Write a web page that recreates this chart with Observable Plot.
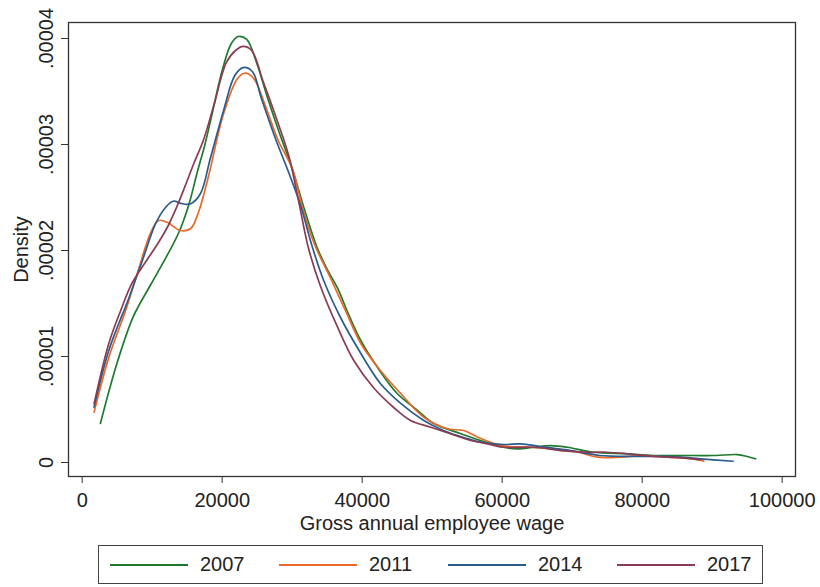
<!DOCTYPE html>
<html>
<head>
<meta charset="utf-8">
<script src="https://cdn.jsdelivr.net/npm/d3@7"></script>
<script src="https://cdn.jsdelivr.net/npm/@observablehq/plot@0.6"></script>
<style>
  body { margin: 0; background: #fff; font-family: "Liberation Sans", Arial, sans-serif; }
  #wrap { position: relative; width: 820px; height: 587px; }
  #legend { position: absolute; left: 98px; top: 545px; width: 665px; height: 39px; box-sizing: border-box; border: 1px solid #444; background: #fff; }
  .item { position: absolute; top: 0; height: 37px; }
  .swatch { position: absolute; top: 18px; width: 78px; height: 2px; }
  .lab { position: absolute; left: 90px; top: 7px; font-size: 20px; color: #222; line-height: 22px; }
</style>
</head>
<body>
<div id="wrap"><div id="chart"></div><div id="legend"></div></div>
<script>
const years = ["2007", "2011", "2014", "2017"];
const seriesColors = ["#1f7a2e", "#e8692a", "#2a5d8c", "#8b3b52"];

const wage2007 = [2600,5000,7300,9800,11900,13800,15200,16500,17500,18600,20000,21300,22300,23500,24900,26600,28300,30000,31800,33500,35000,36500,38000,39800,42200,45000,47900,50200,54000,56900,60200,62200,64500,66900,69300,73000,77900,81600,87300,90200,93600,95000,96200];
const dens2007 = [3.68e-6,9.43e-6,13.77e-6,16.79e-6,19.25e-6,21.70e-6,24.25e-6,27.55e-6,29.91e-6,33.02e-6,36.98e-6,39.53e-6,40.19e-6,39.91e-6,37.74e-6,34.15e-6,30.85e-6,27.74e-6,23.77e-6,20.38e-6,18.21e-6,16.42e-6,14.06e-6,11.51e-6,8.96e-6,6.51e-6,4.91e-6,3.68e-6,2.74e-6,2.08e-6,1.44e-6,1.29e-6,1.44e-6,1.60e-6,1.44e-6,0.97e-6,0.82e-6,0.66e-6,0.66e-6,0.66e-6,0.75e-6,0.57e-6,0.35e-6];

const wage2011 = [1700,3800,6200,8000,9800,10900,12200,14000,15500,16600,18000,20200,22200,23300,24500,26300,28000,30000,31500,33200,35500,37600,39800,42600,45500,48800,52200,54500,56500,59800,63600,67300,70800,73600,76900,80200,83600,87300,88800];
const dens2011 = [4.75e-6,9.91e-6,14.34e-6,18.11e-6,21.70e-6,22.83e-6,22.64e-6,21.89e-6,22.08e-6,23.59e-6,26.89e-6,32.92e-6,36.23e-6,36.73e-6,36.23e-6,33.40e-6,30.38e-6,27.74e-6,23.96e-6,20.57e-6,17.36e-6,14.34e-6,11.23e-6,8.68e-6,6.51e-6,4.27e-6,3.18e-6,3.02e-6,2.39e-6,1.60e-6,1.44e-6,1.29e-6,0.97e-6,0.50e-6,0.50e-6,0.66e-6,0.50e-6,0.35e-6,0.12e-6];

const wage2014 = [1700,3800,6700,8600,10500,11900,13000,14300,15500,16900,18300,20200,21800,23000,24300,25600,27600,29500,31200,32900,34500,36900,39300,42600,45500,48800,51600,55000,56900,60200,62600,65500,69800,74000,78800,83600,88300,93000];
const dens2014 = [5.22e-6,10.57e-6,15.57e-6,19.06e-6,22.55e-6,24.06e-6,24.65e-6,24.41e-6,24.41e-6,25.38e-6,28.68e-6,33.21e-6,36.51e-6,37.26e-6,36.89e-6,34.34e-6,30.57e-6,27.36e-6,24.25e-6,20.28e-6,17.17e-6,13.68e-6,10.85e-6,7.45e-6,5.57e-6,3.96e-6,3.02e-6,2.26e-6,1.92e-6,1.70e-6,1.76e-6,1.51e-6,1.13e-6,0.66e-6,0.57e-6,0.57e-6,0.35e-6,0.12e-6];

const wage2017 = [1700,3800,5500,7100,9000,10900,12300,13600,14900,16000,17300,18800,20600,21900,23000,24200,25900,27600,29500,30900,32300,34000,36500,38800,41600,44500,46900,49800,52600,55500,57900,60200,64500,68300,72200,75000,77900,81600,85500,88300];
const dens2017 = [5.54e-6,11.23e-6,14.34e-6,16.89e-6,18.87e-6,20.75e-6,22.36e-6,24.25e-6,26.42e-6,28.30e-6,30.38e-6,33.68e-6,37.74e-6,38.87e-6,39.25e-6,38.87e-6,35.85e-6,32.74e-6,28.96e-6,24.72e-6,20.28e-6,16.70e-6,12.74e-6,9.62e-6,7.08e-6,5.19e-6,3.96e-6,3.33e-6,2.71e-6,2.08e-6,1.76e-6,1.44e-6,1.44e-6,1.13e-6,0.97e-6,0.97e-6,0.82e-6,0.57e-6,0.44e-6,0.25e-6];

const xTicks = [0, 20000, 40000, 60000, 80000, 100000];
const yTicks = [0, 0.00001, 0.00002, 0.00003, 0.00004];
const xTitle = "Gross annual employee wage";
const yTitle = "Density";

const wages = [wage2007, wage2011, wage2014, wage2017];
const dens = [dens2007, dens2011, dens2014, dens2017];
const rows = [];
years.forEach((yr, i) => wages[i].forEach((w, j) => rows.push({year: yr, wage: w, density: dens[i][j]})));

const yFmt = d => d === 0 ? "0" : String(d).replace(/^0\./, ".");

const chart = Plot.plot({
  width: 820,
  height: 540,
  marginLeft: 68,
  marginRight: 25,
  marginTop: 22,
  marginBottom: 64,
  style: {fontFamily: "'Liberation Sans', Arial, sans-serif", fontSize: "20px", color: "#222", background: "#fff"},
  x: {domain: [-1957, 101900]},
  y: {domain: [-1.32e-6, 4.151e-5]},
  color: {domain: years, range: seriesColors},
  marks: [
    Plot.line(rows, {x: "wage", y: "density", z: "year", stroke: "year", curve: "catmull-rom", strokeWidth: 1.7}),
    Plot.frame({stroke: "#333", strokeWidth: 1.3}),
    Plot.axisX({ticks: xTicks, tickSize: 7, tickPadding: 9, tickFormat: d => String(d), label: null, fontSize: 20, stroke: "#333"}),
    Plot.axisY({ticks: yTicks, tickSize: 7, tickFormat: () => "", label: null, stroke: "#333"}),
    Plot.text(yTicks, {y: d => d, text: yFmt, frameAnchor: "left", dx: -22, rotate: -90, textAnchor: "middle", lineAnchor: "middle", fontSize: 20, fill: "#222"}),
    Plot.text([yTitle], {text: d => d, frameAnchor: "left", dx: -47, rotate: -90, textAnchor: "middle", lineAnchor: "middle", fontSize: 20, fill: "#222"}),
    Plot.text([xTitle], {text: d => d, frameAnchor: "bottom", dy: 47, textAnchor: "middle", lineAnchor: "middle", fontSize: 20, fill: "#222"})
  ]
});
document.getElementById("chart").appendChild(chart);

const legend = document.getElementById("legend");
years.forEach((yr, i) => {
  const item = document.createElement("div");
  item.className = "item";
  item.style.left = (11 + i * 169) + "px";
  const sw = document.createElement("div");
  sw.className = "swatch";
  sw.style.background = seriesColors[i];
  const lab = document.createElement("div");
  lab.className = "lab";
  lab.textContent = yr;
  item.appendChild(sw);
  item.appendChild(lab);
  legend.appendChild(item);
});
</script>
</body>
</html>
